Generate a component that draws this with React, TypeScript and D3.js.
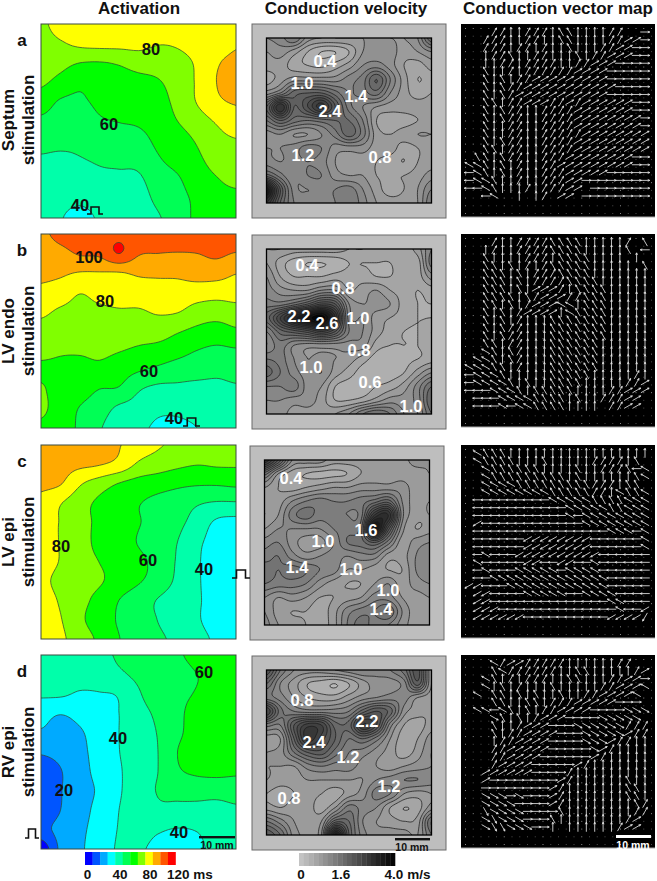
import * as d3 from 'd3';

// activation times (ms), rows top to bottom
const activationA = [
  [78, 84, 85, 86, 86, 86, 86, 87, 88, 87, 86],
  [76, 79, 82, 83, 83, 83, 80.5, 81, 83, 86, 89],
  [74, 73, 70, 69.5, 71, 74, 75, 78, 81, 89, 92],
  [71.5, 67, 62, 65, 66, 67, 69, 75, 81, 90, 94],
  [65, 59, 58.5, 62, 63, 64.5, 66, 73, 80.5, 88, 91],
  [58, 55.5, 55, 59, 60.3, 61.3, 64.3, 70, 75.5, 81, 85],
  [53, 52, 52, 55, 56, 57, 62, 65.7, 71, 77, 79.5],
  [49, 48.5, 49.5, 51, 52, 52.8, 59, 63, 68, 73.5, 75.5],
  [47, 46, 46, 48, 48, 48.5, 55.5, 59, 65, 69.5, 72],
  [45, 43, 42, 44, 45, 45.5, 52.5, 57, 62, 67, 68],
  [43, 40.5, 37, 41, 42, 43, 49, 55, 62, 65, 66],
];
const activationB = [
  [98, 103, 106, 107, 108, 107, 107, 107, 107, 107, 108],
  [95, 97, 101, 102, 110.15, 101, 100, 99.5, 100, 102, 99.5],
  [92, 91.5, 89.5, 89.5, 89.5, 91.5, 92, 92, 94, 94, 90.5],
  [88, 85.5, 80.5, 83.5, 85, 85, 85.5, 86, 85, 84, 84.5],
  [82, 78.5, 77, 78, 79, 79, 81, 80.5, 76, 74.5, 76],
  [76.5, 75, 74, 75, 74.5, 74, 74.5, 71, 67.8, 66, 68.5],
  [72.5, 71, 71, 72, 70.5, 68.5, 66.5, 63.5, 60, 58, 59],
  [68.5, 68, 67, 67.5, 64.5, 61, 58, 55.5, 54, 52, 53],
  [71, 66, 64, 60, 59, 51, 47.5, 47.5, 47, 48, 49],
  [72, 65, 59.5, 55, 48, 46, 42, 42, 44, 46, 47],
  [68, 64, 58.5, 51, 44, 42, 38.5, 38, 40, 45, 46],
];
const activationC = [
  [97, 96, 95, 93, 90.5, 85, 81, 78, 76, 74, 73],
  [94, 93.5, 92, 90.5, 87, 78.5, 75, 72, 70.3, 71, 71],
  [92, 90.5, 81, 75, 69.5, 66, 64, 62, 61, 61, 62],
  [87, 80.5, 74, 68, 64.5, 60.5, 57.5, 55, 51, 49, 49],
  [84, 79.5, 73.5, 68, 65, 60.5, 57, 52.5, 46, 38.5, 37],
  [84, 79.5, 74.5, 67, 64, 59.5, 55, 50, 42, 37, 36],
  [84, 79.5, 74.5, 69.8, 66, 62, 57, 49, 41, 37, 36],
  [82, 77.5, 74, 71, 66, 61, 56, 48, 41, 37, 36],
  [84, 79, 73, 67, 60, 54.5, 49.5, 45, 41, 37, 36],
  [85, 80.5, 72, 65, 59, 54, 49.8, 45.5, 41, 36.5, 36],
  [88, 82, 75, 68, 60.3, 56, 51.5, 48, 43, 38.7, 37],
];
const activationD = [
  [44, 45, 46, 48, 51, 54, 56, 59, 62, 63, 63],
  [43, 44, 44.5, 46, 48.5, 52, 54, 57, 60, 60.5, 61],
  [41.5, 41.5, 39, 39.5, 41, 49, 55, 58, 60.5, 62, 63],
  [33, 30.5, 33, 37, 40, 46.5, 52, 58, 63, 64, 65],
  [29, 27, 29, 35, 40, 45.5, 50.5, 58, 64, 65, 66],
  [21, 23, 27.5, 34, 39.8, 45, 50, 60, 65, 66, 67],
  [15, 19.5, 26.5, 33, 39, 45, 50, 58.5, 62, 63, 62],
  [13, 19.5, 26, 31.5, 39, 45, 50.5, 52, 52.5, 52.5, 53],
  [13, 20, 26.5, 33, 40, 45, 48, 48, 48, 48, 49],
  [17, 23, 28, 34, 40.5, 43, 41, 39.5, 40.5, 44, 46],
  [3, 22, 28.5, 35, 41, 41, 38, 37, 38.5, 42, 44],
];

// conduction velocity (m/s)
const velocityA = [
  [1.2, 1.3, 1.6, 1.1, 1.0, 1.0, 1.0, 1.0, 1.0, 1.0, 1.0, 1.2, 2.0],
  [1.0, 1.1, 0.9, 0.6, 0.4, 0.4, 0.6, 1.0, 1.1, 1.1, 0.9, 1.0, 1.2],
  [0.9, 0.9, 0.7, 0.6, 0.55, 0.7, 0.9, 1.2, 1.3, 1.1, 0.8, 0.7, 0.9],
  [0.7, 0.9, 1.1, 1.1, 1.1, 1.1, 1.3, 1.5, 2.0, 1.4, 0.9, 0.6, 0.7],
  [1.1, 1.4, 1.9, 2.0, 2.0, 1.7, 1.4, 1.5, 1.7, 1.2, 0.9, 0.7, 0.8],
  [2.0, 3.0, 2.0, 2.4, 2.9, 2.2, 1.5, 1.2, 1.0, 0.9, 0.9, 0.9, 0.9],
  [1.6, 2.0, 1.7, 1.6, 1.7, 1.8, 1.8, 1.4, 0.8, 0.7, 0.7, 0.8, 0.9],
  [1.1, 1.2, 1.0, 1.0, 1.2, 1.5, 1.9, 1.5, 0.9, 0.8, 0.9, 1.0, 1.0],
  [1.2, 1.2, 1.3, 1.5, 1.4, 1.1, 1.1, 1.1, 0.9, 0.9, 0.7, 0.8, 0.9],
  [1.3, 1.2, 1.3, 1.4, 1.3, 1.0, 0.9, 0.9, 0.8, 0.7, 0.6, 0.8, 0.9],
  [1.9, 1.5, 1.2, 1.4, 1.4, 1.1, 1.0, 1.0, 0.8, 0.8, 0.8, 0.9, 1.1],
  [3.6, 2.2, 1.3, 1.2, 1.3, 1.4, 1.5, 1.2, 0.9, 0.7, 0.8, 1.0, 1.4],
  [3.0, 2.0, 1.4, 1.3, 1.3, 1.4, 1.6, 1.3, 1.0, 0.9, 0.9, 1.0, 1.6],
];
const velocityB = [
  [1.0, 1.0, 0.9, 0.9, 0.9, 0.9, 0.8, 0.8, 0.7, 0.7, 0.7, 0.9, 1.4],
  [1.0, 0.7, 0.5, 0.4, 0.4, 0.45, 0.6, 0.6, 0.6, 0.6, 0.7, 0.7, 1.5],
  [1.2, 0.8, 0.6, 0.6, 0.6, 0.7, 0.7, 0.7, 0.6, 0.6, 0.7, 0.7, 1.1],
  [1.3, 1.1, 1.0, 1.0, 1.2, 1.2, 0.8, 0.9, 1.0, 0.8, 0.7, 0.6, 0.7],
  [1.5, 1.5, 1.7, 2.0, 2.4, 2.2, 1.2, 1.0, 1.1, 1.0, 0.7, 0.6, 0.6],
  [1.9, 2.6, 3.3, 3.7, 4.0, 3.0, 1.3, 1.2, 0.9, 0.8, 0.7, 0.6, 0.6],
  [1.4, 1.9, 2.1, 2.3, 2.6, 2.2, 1.4, 1.2, 0.9, 0.7, 0.6, 0.6, 0.8],
  [1.2, 1.5, 1.2, 1.1, 1.1, 1.1, 1.1, 1.1, 0.7, 0.6, 0.6, 0.6, 0.7],
  [1.6, 1.5, 1.2, 1.0, 1.1, 1.0, 0.9, 0.7, 0.5, 0.5, 0.55, 0.6, 0.7],
  [1.9, 1.6, 1.3, 1.1, 1.2, 0.9, 0.7, 0.5, 0.5, 0.5, 0.6, 0.9, 1.2],
  [1.4, 1.4, 1.5, 1.1, 1.0, 0.6, 0.5, 0.5, 0.6, 0.7, 0.9, 1.3, 1.8],
  [1.2, 1.2, 1.1, 1.1, 0.9, 0.6, 0.6, 0.7, 0.9, 1.1, 1.1, 1.3, 2.0],
  [1.2, 1.1, 0.9, 0.9, 0.9, 1.0, 1.2, 1.6, 1.8, 1.6, 1.2, 1.2, 1.8],
];
const velocityC = [
  [3.0, 2.2, 1.2, 1.1, 1.1, 0.9, 0.9, 0.9, 0.9, 0.9, 0.9, 1.1, 1.0],
  [1.7, 1.0, 0.7, 0.6, 0.55, 0.55, 0.6, 0.8, 0.9, 0.9, 0.9, 0.9, 1.0],
  [1.0, 0.8, 0.7, 0.8, 0.9, 1.0, 1.0, 1.1, 1.1, 1.1, 1.1, 0.9, 0.9],
  [0.9, 0.9, 1.2, 1.4, 1.5, 1.4, 1.4, 1.5, 1.7, 1.9, 1.2, 0.9, 0.8],
  [0.8, 1.0, 1.5, 1.7, 1.5, 1.5, 1.4, 1.5, 2.8, 3.0, 1.3, 0.9, 0.8],
  [1.0, 1.2, 1.2, 1.2, 1.2, 1.4, 1.5, 1.7, 3.6, 2.3, 1.1, 0.8, 0.9],
  [1.3, 1.4, 1.1, 0.9, 0.9, 1.2, 1.6, 1.7, 2.0, 1.5, 0.9, 1.1, 1.2],
  [1.5, 1.6, 1.3, 1.1, 1.2, 1.3, 1.2, 1.3, 1.3, 0.9, 0.9, 1.2, 1.3],
  [1.7, 1.6, 1.7, 1.6, 1.4, 1.3, 1.0, 1.0, 0.9, 0.8, 0.8, 1.2, 1.3],
  [1.6, 1.5, 1.5, 1.4, 1.1, 0.9, 0.8, 0.8, 1.0, 1.2, 0.9, 1.1, 1.2],
  [1.2, 1.0, 1.1, 1.0, 0.8, 0.8, 0.9, 1.0, 1.3, 1.3, 1.0, 0.9, 1.0],
  [1.2, 0.9, 0.8, 0.8, 0.7, 0.9, 1.3, 1.5, 1.6, 1.8, 1.2, 0.9, 0.9],
  [1.3, 1.0, 0.9, 0.8, 0.7, 0.9, 1.4, 1.7, 1.5, 1.4, 1.1, 0.9, 0.9],
];
const velocityD = [
  [2.4, 1.6, 1.2, 1.1, 1.1, 1.2, 1.3, 1.4, 1.3, 1.4, 1.7, 2.3, 1.0],
  [1.8, 1.2, 0.9, 0.6, 0.5, 0.4, 0.6, 0.9, 1.1, 1.1, 1.3, 2.1, 1.0],
  [1.5, 1.3, 1.0, 0.8, 0.7, 0.7, 0.9, 1.1, 1.2, 1.3, 1.3, 1.0, 0.9],
  [2.6, 1.7, 1.4, 1.3, 1.3, 1.3, 1.4, 1.9, 2.2, 1.9, 1.1, 0.9, 0.8],
  [1.5, 1.4, 2.2, 2.7, 2.6, 1.9, 1.9, 2.8, 2.4, 1.3, 0.8, 0.7, 0.9],
  [0.9, 1.0, 2.0, 2.9, 2.5, 2.0, 1.6, 1.8, 1.5, 1.0, 0.7, 0.8, 1.1],
  [1.0, 1.1, 1.6, 2.0, 2.1, 1.7, 1.4, 1.3, 1.1, 0.9, 0.7, 0.9, 1.2],
  [1.0, 1.0, 1.0, 1.3, 1.4, 1.3, 1.3, 1.1, 1.0, 0.9, 1.0, 1.1, 1.2],
  [1.0, 0.9, 0.9, 1.0, 1.0, 1.0, 1.0, 1.0, 1.2, 1.3, 1.4, 1.4, 1.3],
  [0.8, 0.7, 0.8, 0.9, 0.8, 0.7, 0.9, 1.1, 1.5, 1.4, 1.0, 0.9, 1.0],
  [0.9, 0.8, 0.9, 0.9, 0.7, 1.0, 1.5, 1.3, 1.2, 0.8, 0.6, 0.7, 1.1],
  [1.6, 1.3, 1.0, 0.9, 1.0, 1.9, 1.8, 1.2, 1.0, 0.9, 0.8, 0.9, 1.8],
  [2.2, 1.8, 1.1, 1.0, 1.2, 3.5, 2.0, 1.3, 1.1, 1.1, 1.1, 1.0, 1.6],
];

// conduction direction as a clock hour per node (0 = up, 3 = right, 6 = down, 9 = left, a = 10, b = 11), '.' = none
const vectorsA = [
  '...11001110bb000011..3',
  '..111001100bb000011223',
  '..1110110100b000112233',
  '..011b0011000b01122233',
  '..00110111100112223333',
  '..b0010111111222233333',
  '..b0b01122222222233333',
  '..b0b11222222222223333',
  '..b0b12222222222233333',
  '..bb011222112122222233',
  '..b0b11001111222222233',
  '..b0b11001111222222223',
  '..b0011001111222222223',
  '..b0011001111122222222',
  '..b0b11001111222222222',
  '..bb011001111222222222',
  '.bb0b11001112222222233',
  'aab0b01001122222222233',
  '9ab0b01001112222233333',
  '9aab001001112233333333',
  '99ab0001011122.3333333',
  '..9a..0.01.22.33333333',
];
const vectorsB = [
  '...1001111bbbb000001.b',
  '..01001111bbbb00000b.9',
  '..b00001110bbbb0000.0.',
  '..bb0b0101bbbbb00000.b',
  '..bbb0b0111bbbb0000000',
  '..bbb0b01111bbbb000000',
  '..bbb0b022210bbbb00000',
  '..bbbb0b122211bbb00000',
  '..bb0b01222aa0bbb00000',
  '..b0b0122220abbbb00000',
  '..b0b01000bbbbbbb00000',
  '..b0b11000bbbbbbb00000',
  '..b0b11000bbbbbbb00000',
  '..bb011000bbbbbb000000',
  '..ab0b1000bbbbbb000000',
  '.aab0b1000bbbbbb000000',
  'aaabb01000bbbbbb000000',
  '9aaab00000bbbbb0000010',
  '9aaaab0b00bbbb00000112',
  '999aaab0bbbbb000011222',
  '.999aaaabbbb0b0011122.',
  '.999a9aabbbb0000.1122.',
];
const vectorsC = [
  '.abbb00000000000000000',
  '.abbbb000b0000011110b.',
  '..abbbbbb0000b00111b9a',
  '..abbbbbbbbb0b000000ba',
  '..aaaabbbbbbbbb1110bb.',
  '..aaaaaaaabbbbb110abba',
  '.999999999aaaaabbbbaaa',
  '.99999999999aaaaabbaaa',
  '.99999999999a9aaaaaaaa',
  '.8999999999999aaaaaaaa',
  '.9999999999999999aaa9a',
  '.99999988888888999999a',
  '.99999988888888999999a',
  '.9a9998888888888999999',
  '.a9999988998899a999999',
  '.9a999aaaaa9aaaa999999',
  '.99aaaaaaaaaaaaaa99999',
  '88999aaaaaaaaaaaa99999',
  '.889999aaaaa99aaaa9999',
  '.8899999999999999aa999',
  '.88899999999999999a998',
  '.888888999999999988887',
];
const vectorsD = [
  '...a1221111100000011..',
  '...ba11111100bb0000012',
  '..ab01011100bb00011223',
  '..a0b01000b0000011222a',
  '.a.bb0b0b00b00112222a.',
  '...bb00bb011122222333.',
  '.aa9ab0b01122223333444',
  '...4b0b01222333344444.',
  '...b001222333444444111',
  '...b011222233344444211',
  '...0112222333344421100',
  '...1122222333334210000',
  '...1122223333332100000',
  '...1222233333210000000',
  '..22222233331000000000',
  '..23333333321000000b00',
  '..33333333210000000bb0',
  '..44434333210000000bb0',
  '..444433332100000000b1',
  '..544443333b0000000011',
  '..45444333b0000000012.',
  '..455444330.000000122.',
];

const activationColors = [
  '#0000ff', '#0055ff', '#00aaff', '#00ffff', '#00ffaa', '#00ff55',
  '#00ff00', '#80ff00', '#ffff00', '#ffaa00', '#ff5500', '#ff0000',
];
const activationLevels = d3.range(0, 120, 10);
const velocityLevels = d3.range(0, 4, 0.2);

const FONT = '"Liberation Sans", Arial, sans-serif';
const gray = d3.scaleLinear<string>().domain([0, 4]).range(['#c8c8c8', '#000000']);

// Catmull-Rom refinement so the contour lines come out round instead of faceted
function cubic(a: number, b: number, c: number, d: number, t: number) {
  return b + 0.5 * t * (c - a + t * (2 * a - 5 * b + 4 * c - d + t * (3 * (b - c) + d - a)));
}

function refine(grid: number[][], f: number) {
  const R = grid.length, C = grid[0].length;
  const W = (C - 1) * f + 1, H = (R - 1) * f + 1;
  const at = (r: number, c: number) =>
    grid[Math.max(0, Math.min(R - 1, r))][Math.max(0, Math.min(C - 1, c))];
  const out = new Array(W * H);
  for (let j = 0; j < H; j++) {
    const r = Math.min(Math.floor(j / f), R - 2), v = j / f - r;
    for (let i = 0; i < W; i++) {
      const c = Math.min(Math.floor(i / f), C - 2), u = i / f - c;
      const col = [-1, 0, 1, 2].map(k =>
        cubic(at(r + k, c - 1), at(r + k, c), at(r + k, c + 1), at(r + k, c + 2), u));
      out[j * W + i] = cubic(col[0], col[1], col[2], col[3], v);
    }
  }
  return { values: out, W, H };
}

type Box = { x: number; y: number; w: number; h: number };

function ContourMap({ id, grid, box, levels, fillOf, line }: {
  id: string; grid: number[][]; box: Box; levels: number[];
  fillOf: (l: number, i: number) => string; line: string;
}) {
  const { values, W, H } = refine(grid, 8);
  const sx = d3.scaleLinear().domain([0.5, W - 0.5]).range([box.x, box.x + box.w]);
  const sy = d3.scaleLinear().domain([0.5, H - 0.5]).range([box.y, box.y + box.h]);
  const path = d3.geoPath(d3.geoTransform({
    point(x: number, y: number) { (this as any).stream.point(sx(x), sy(y)); },
  }));
  const bands = d3.contours().size([W, H]).smooth(true).thresholds(levels)(values);
  return (
    <g>
      <clipPath id={id}><rect x={box.x} y={box.y} width={box.w} height={box.h} /></clipPath>
      <g clipPath={`url(#${id})`}>
        <rect x={box.x} y={box.y} width={box.w} height={box.h} fill={fillOf(levels[0], 0)} />
        {bands.map((b, i) => (
          <path key={i} d={path(b as any) || ''} fill={fillOf(b.value, i)}
            stroke={i === 0 ? 'none' : line} strokeWidth={0.75} />
        ))}
      </g>
    </g>
  );
}

function VectorMap({ rows, box }: { rows: string[]; box: Box }) {
  const dx = d3.scalePoint<number>().domain(d3.range(25)).range([box.x + 4, box.x + box.w - 4]);
  const dy = d3.scalePoint<number>().domain(d3.range(25)).range([box.y + 4, box.y + box.h - 4]);
  const ax = d3.scalePoint<number>().domain(d3.range(22)).range([box.x + 8, box.x + 184]);
  const ay = d3.scalePoint<number>().domain(d3.range(22)).range([box.y + 8, box.y + 172]);
  const len = 9.5;
  const path = d3.path();
  rows.forEach((row, r) => {
    row.split('').forEach((ch, c) => {
      if (ch === '.') return;
      const a = (parseInt(ch, 12) * Math.PI) / 6;
      const x = ax(c)!, y = ay(r)!;
      const ux = Math.sin(a), uy = -Math.cos(a);
      const tx = x + (ux * len) / 2, ty = y + (uy * len) / 2;
      path.moveTo(x - (ux * len) / 2, y - (uy * len) / 2);
      path.lineTo(tx, ty);
      path.moveTo(tx - ux * 2 - uy * 0.9, ty - uy * 2 + ux * 0.9);
      path.lineTo(tx, ty);
      path.lineTo(tx - ux * 2 + uy * 0.9, ty - uy * 2 - ux * 0.9);
    });
  });
  return (
    <g>
      <rect x={box.x} y={box.y} width={box.w} height={box.h} fill="#000" />
      {dx.domain().flatMap(i => dy.domain().map(j => (
        <rect key={`${i}-${j}`} x={dx(i)!} y={dy(j)!} width={1} height={1}
          fill={j % 5 === 0 || i % 5 === 0 ? '#8a8a8a' : '#4c4c4c'} />
      )))}
      <path d={path.toString()} fill="none" stroke="#e4e4e4" strokeWidth={0.85} filter="url(#soft)" />
      <line x1={box.x} x2={box.x + box.w} y1={box.y + box.h} y2={box.y + box.h} stroke="#a8a8a8" strokeWidth={1.2} />
    </g>
  );
}

function Pulse({ x, y, w, h }: Box) {
  const step = w / 4;
  return (
    <path d={`M${x},${y}h${step}v${-h}h${2 * step}v${h}h${step}`} fill="none" stroke="#111" strokeWidth={1.6} />
  );
}

function Label({ x, y, t, size = 16.5, fill = '#111' }: { x: number; y: number; t: string; size?: number; fill?: string }) {
  return (
    <text x={x} y={y} dy="0.36em" textAnchor="middle" fontFamily={FONT} fontWeight="bold" fontSize={size} fill={fill}>{t}</text>
  );
}

function RowTitle({ x, y, lines }: { x: number; y: number; lines: string[] }) {
  return (
    <g>
      {lines.map((l, i) => (
        <text key={l} transform={`translate(${x + i * 20},${y}) rotate(-90)`} textAnchor="middle"
          fontFamily={FONT} fontWeight="bold" fontSize={17} fill="#111">{l}</text>
      ))}
    </g>
  );
}

const rowsLayout = [
  { key: 'a', top: 24, act: activationA, vel: velocityA, vec: vectorsA, cvx: 252, cvy: 24, title: ['Septum', 'stimulation'], titleY: 120 },
  { key: 'b', top: 234, act: activationB, vel: velocityB, vec: vectorsB, cvx: 252, cvy: 235, title: ['LV endo', 'stimulation'], titleY: 331 },
  { key: 'c', top: 445, act: activationC, vel: velocityC, vec: vectorsC, cvx: 250, cvy: 446, title: ['LV epi', 'stimulation'], titleY: 542 },
  { key: 'd', top: 655, act: activationD, vel: velocityD, vec: vectorsD, cvx: 252, cvy: 656, title: ['RV epi', 'stimulation'], titleY: 752 },
];

const activationLabels: [number, number, string][] = [
  [151, 49, '80'], [109, 124, '60'], [80, 205, '40'],
  [89, 257, '100'], [105, 301, '80'], [149, 371, '60'], [174, 418, '40'],
  [61, 546, '80'], [148, 560, '60'], [204, 569, '40'],
  [204, 672, '60'], [118, 738, '40'], [64, 790, '20'], [179, 832, '40'],
];
const velocityLabels: [number, number, string][] = [
  [325, 61, '0.4'], [302, 83, '1.0'], [356, 96, '1.4'], [330, 111, '2.4'], [303, 155, '1.2'], [380, 157, '0.8'],
  [307, 265, '0.4'], [343, 288, '0.8'], [299, 316, '2.2'], [327, 323, '2.6'], [358, 318, '1.0'],
  [359, 350, '0.8'], [311, 367, '1.0'], [370, 382, '0.6'], [411, 406, '1.0'],
  [291, 478, '0.4'], [366, 530, '1.6'], [323, 541, '1.0'], [297, 567, '1.4'], [351, 569, '1.0'], [388, 590, '1.0'], [381, 609, '1.4'],
  [302, 700, '0.8'], [367, 721, '2.2'], [314, 742, '2.4'], [348, 757, '1.2'], [389, 786, '1.2'], [289, 798, '0.8'],
];

export default function App() {
  const actLegend = d3.scaleLinear().domain([0, 120]).range([85, 175.5]);
  const velLegend = d3.scaleLinear().domain([0, 4]).range([299, 395]);
  return (
    <svg width={657} height={881} style={{ position: 'absolute', left: 0, top: 0, background: '#fff' }}>
      <defs>
        <filter id="soft" x="0" y="0" width="100%" height="100%">
          <feGaussianBlur stdDeviation="0.25" />
        </filter>
      </defs>
      <Label x={139} y={8} t="Activation" size={17} />
      <Label x={346} y={8} t="Conduction velocity" size={17} />
      <Label x={558} y={8} t="Conduction vector map" size={17} />

      {rowsLayout.map(row => {
        const act = { x: 41, y: row.top, w: 195, h: 194 };
        const inner = { x: row.cvx + 14.5, y: row.cvy + 14, w: 165, h: 165 };
        return (
          <g key={row.key}>
            <Label x={22} y={row.top + 16} t={row.key} size={17} />
            <RowTitle x={14} y={row.titleY} lines={row.title} />
            <ContourMap id={`act-${row.key}`} grid={row.act} box={act} levels={activationLevels}
              fillOf={l => activationColors[Math.round(l / 10)]} line="#2f4a35" />
            <rect x={act.x} y={act.y} width={act.w} height={act.h} fill="none" stroke="#3a4a40" strokeWidth={1} />

            <rect x={row.cvx} y={row.cvy} width={194} height={194} fill="#bebebe" stroke="#6a6a6a" strokeWidth={1} />
            <ContourMap id={`vel-${row.key}`} grid={row.vel} box={inner} levels={velocityLevels}
              fillOf={l => gray(l + 0.1)} line="#1c1c1c" />
            <rect x={inner.x} y={inner.y} width={inner.w} height={inner.h} fill="none" stroke="#000" strokeWidth={1.3} />

            <VectorMap rows={row.vec} box={{ x: 461, y: row.top, w: 194, h: 193 }} />
          </g>
        );
      })}

      {activationLabels.map(([x, y, t], i) => <Label key={i} x={x} y={y} t={t} />)}
      {velocityLabels.map(([x, y, t], i) => <Label key={i} x={x} y={y} t={t} fill="#fff" />)}

      <Pulse x={87} y={214} w={16} h={7} />
      <Pulse x={183} y={426} w={17} h={8} />
      <Pulse x={232} y={578} w={18} h={8} />
      <Pulse x={25} y={838} w={14} h={9} />

      {/* scale bars */}
      <rect x={199} y={836} width={36} height={2.4} fill="#111" />
      <Label x={217} y={845} t="10 mm" size={10.5} />
      <rect x={395} y={838} width={35} height={2.4} fill="#111" />
      <Label x={412} y={847} t="10 mm" size={10.5} />
      <rect x={616} y={835} width={35} height={3} fill="#fff" />
      <Label x={633} y={845} t="10 mm" size={10.5} fill="#fff" />

      {/* colour keys */}
      {activationLevels.map((l, i) => (
        <rect key={l} x={actLegend(l)} y={852} width={actLegend(10) - actLegend(0) + 0.3} height={13} fill={activationColors[i]} />
      ))}
      <Label x={87.5} y={874} t="0" size={13.5} />
      <Label x={120} y={874} t="40" size={13.5} />
      <Label x={150} y={874} t="80" size={13.5} />
      <Label x={190} y={874} t="120 ms" size={13.5} />

      {velocityLevels.map(l => (
        <rect key={l} x={velLegend(l)} y={853} width={velLegend(0.2) - velLegend(0) + 0.3} height={13} fill={gray(l + 0.1)} />
      ))}
      <Label x={301} y={874} t="0" size={13.5} />
      <Label x={341} y={874} t="1.6" size={13.5} />
      <Label x={407.5} y={874} t="4.0 m/s" size={13.5} />
    </svg>
  );
}
